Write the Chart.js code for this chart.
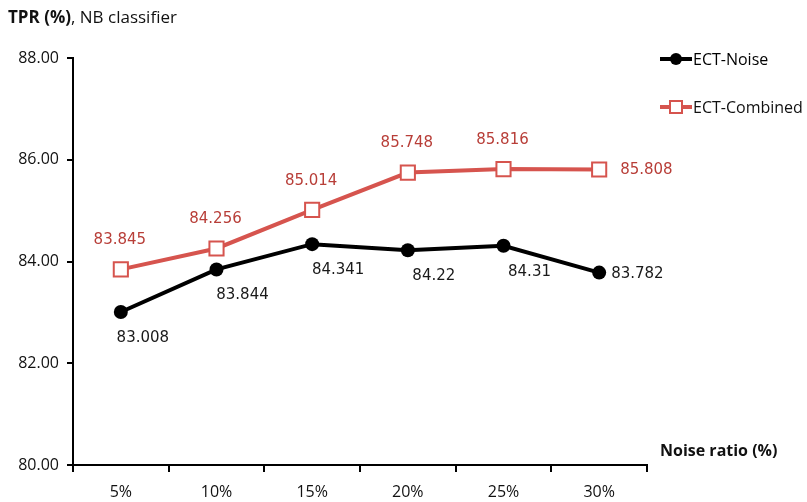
<!DOCTYPE html>
<html>
<head>
<meta charset="utf-8">
<script src="https://cdn.jsdelivr.net/npm/chart.js@4"></script>
<style>
  html, body { margin: 0; padding: 0; background: #fff; }
  #wrap { width: 807px; height: 502px; }
</style>
</head>
<body>
<div id="wrap"><canvas id="myChart" width="807" height="502"></canvas></div>
<script>
const labels = ['5%', '10%', '15%', '20%', '25%', '30%'];
const noiseData = [83.008, 83.844, 84.341, 84.22, 84.31, 83.782];
const combinedData = [83.845, 84.256, 85.014, 85.748, 85.816, 85.808];
const yTicks = [80, 82, 84, 86, 88];

const red = 'rgb(214, 84, 78)';
const redText = 'rgb(184, 62, 56)';

// value labels, title, axis name and legend
const extras = {
    id: 'extras',
    afterDatasetsDraw(chart) {
        const c = chart.ctx;
        c.save();
        c.textBaseline = 'middle';
        c.font = '15px "DejaVu Sans"';

        const m0 = chart.getDatasetMeta(0).data;
        c.fillStyle = '#1a1a1a';
        noiseData.forEach((v, i) => {
            const p = m0[i];
            if (i === noiseData.length - 1) {
                c.textAlign = 'left';
                c.fillText(String(v), p.x + 12, p.y + 2);
            } else {
                c.textAlign = 'center';
                c.fillText(String(v), p.x + (i === 0 ? 22 : 26), p.y + 26);
            }
        });

        const m1 = chart.getDatasetMeta(1).data;
        c.fillStyle = redText;
        combinedData.forEach((v, i) => {
            const p = m1[i];
            if (i === combinedData.length - 1) {
                c.textAlign = 'left';
                c.fillText(String(v), p.x + 21, p.y + 1);
            } else {
                c.textAlign = 'center';
                c.fillText(String(v), p.x - 1, p.y - 29);
            }
        });

        // title
        c.textAlign = 'left';
        c.fillStyle = '#111';
        c.font = 'bold 17px "Open Sans"';
        c.fillText('TPR (%)', 8, 18);
        const w = c.measureText('TPR (%)').width;
        c.font = '17px "Open Sans"';
        c.fillText(', NB classifier', 8 + w, 18);

        // x axis name
        c.font = 'bold 16px "Open Sans"';
        c.fillText('Noise ratio (%)', 660, 451);

        // legend
        const lx = 660;
        c.lineWidth = 4;
        c.strokeStyle = '#000';
        c.beginPath(); c.moveTo(lx, 59); c.lineTo(lx + 32, 59); c.stroke();
        c.fillStyle = '#000';
        c.beginPath(); c.arc(lx + 16, 59, 6, 0, Math.PI * 2); c.fill();
        c.font = '16px "Open Sans"';
        c.fillText('ECT-Noise', lx + 33, 60);

        c.strokeStyle = red;
        c.beginPath(); c.moveTo(lx, 107); c.lineTo(lx + 32, 107); c.stroke();
        c.fillStyle = '#fff';
        c.fillRect(lx + 10, 101, 12, 12);
        c.lineWidth = 2;
        c.strokeRect(lx + 10, 101, 12, 12);
        c.fillStyle = '#111';
        c.fillText('ECT-Combined', lx + 33, 108);
        c.restore();
    }
};

const ctx = document.getElementById('myChart').getContext('2d');
const myChart = new Chart(ctx, {
    type: 'line',
    data: {
        labels: labels,
        datasets: [
            {
                label: 'ECT-Noise',
                data: noiseData,
                borderColor: '#000',
                backgroundColor: '#000',
                borderWidth: 4,
                pointRadius: 7,
                pointStyle: 'circle',
                pointBackgroundColor: '#000',
                pointBorderWidth: 0,
                tension: 0
            },
            {
                label: 'ECT-Combined',
                data: combinedData,
                borderColor: red,
                backgroundColor: '#fff',
                borderWidth: 4,
                pointStyle: 'rect',
                pointRadius: 10,
                pointBackgroundColor: '#fff',
                pointBorderColor: red,
                pointBorderWidth: 2,
                tension: 0
            }
        ]
    },
    options: {
        responsive: false,
        animation: false,
        layout: { padding: { top: 58, right: 160, left: 0, bottom: 0 } },
        plugins: {
            legend: { display: false },
            tooltip: { enabled: false }
        },
        scales: {
            x: {
                offset: true,
                grid: {
                    offset: true,
                    drawOnChartArea: false,
                    drawTicks: true,
                    tickLength: 7,
                    color: '#000',
                    lineWidth: 2
                },
                border: { color: '#000', width: 2 },
                ticks: {
                    color: '#111',
                    font: { family: 'Open Sans', size: 16 },
                    padding: 11
                },
                afterFit(scale) { scale.height = 37; }
            },
            y: {
                min: 80,
                max: 88,
                afterBuildTicks(scale) { scale.ticks = yTicks.map(v => ({ value: v })); },
                grid: {
                    drawOnChartArea: false,
                    drawTicks: true,
                    tickLength: 6,
                    color: '#000',
                    lineWidth: 2
                },
                border: { color: '#000', width: 2 },
                ticks: {
                    color: '#111',
                    font: { family: 'Open Sans', size: 16 },
                    padding: 8,
                    callback: v => Number(v).toFixed(2)
                },
                afterFit(scale) { scale.width = 73; }
            }
        }
    },
    plugins: [extras]
});
</script>
</body>
</html>
